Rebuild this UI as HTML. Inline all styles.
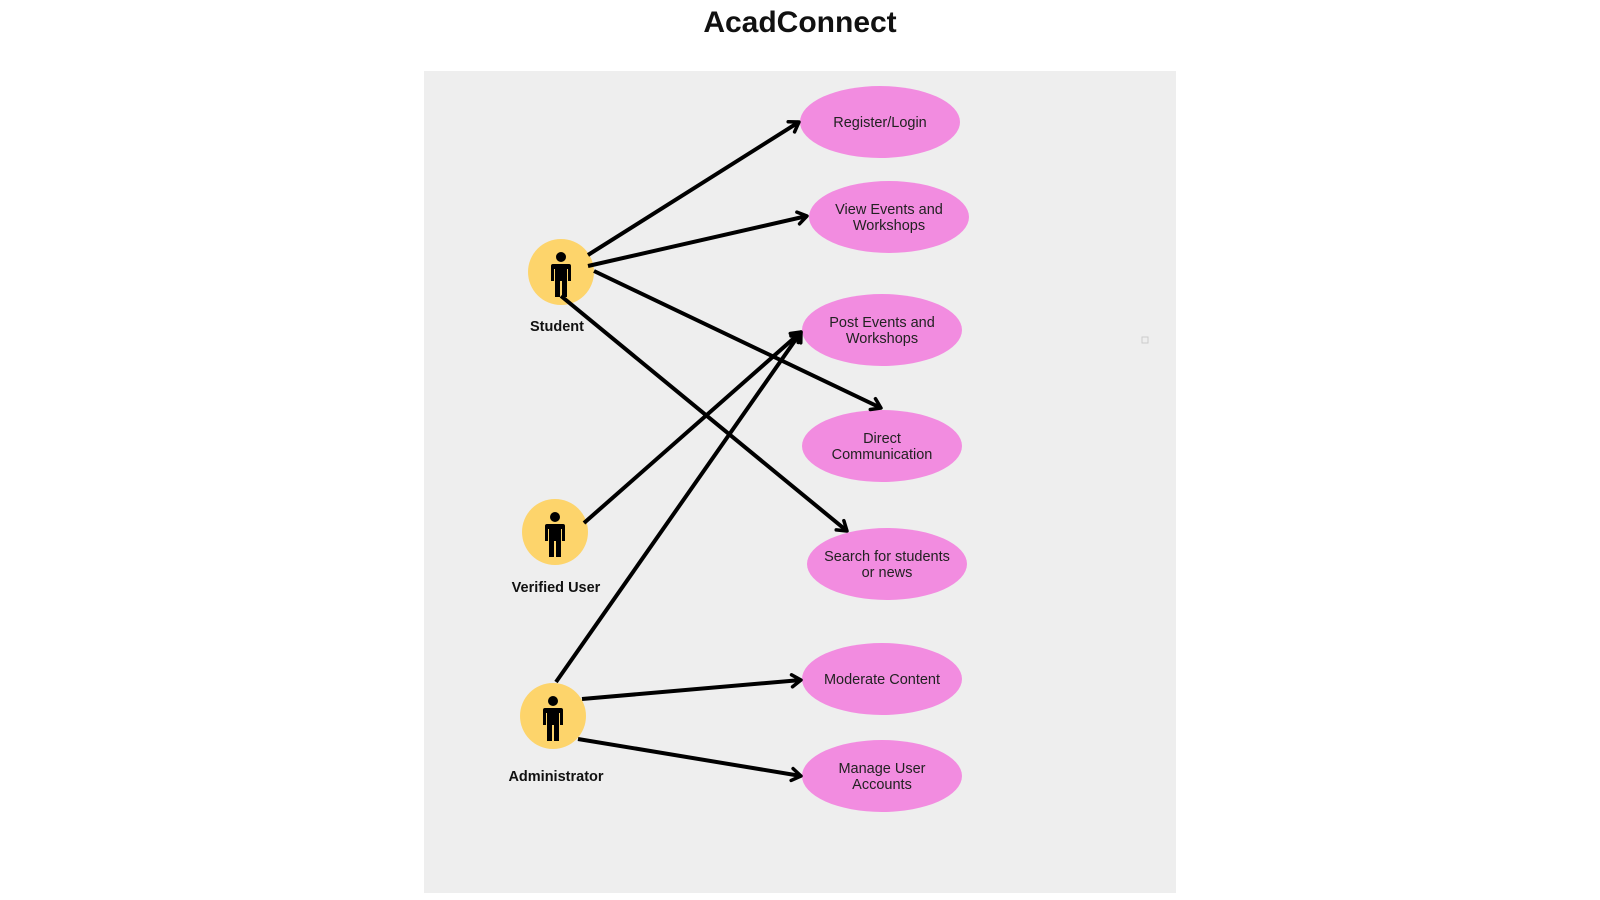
<!DOCTYPE html>
<html><head><meta charset="utf-8"><style>
html,body{margin:0;padding:0;background:#fff;}
svg{display:block;}
</style></head><body>
<svg width="1600" height="900" viewBox="0 0 1600 900" xmlns="http://www.w3.org/2000/svg">
<defs>
<marker id="ah" markerWidth="16" markerHeight="16" refX="11" refY="8" orient="auto" markerUnits="userSpaceOnUse">
<path d="M2,2 L11,8 L2,14" fill="none" stroke="#000" stroke-width="3.5" stroke-linecap="round" stroke-linejoin="round"/>
</marker>
<g id="man">
<circle cx="0" cy="-17" r="5" fill="#000"/>
<path d="M-8,-10 h16 a2,2 0 0 1 2,2 v15 h-3 v-12 h-1 v28 h-5 v-16 h-2 v16 h-5 v-28 h-1 v12 h-3 v-15 a2,2 0 0 1 2,-2z" fill="#000"/>
</g>
</defs>
<text x="800" y="32" text-anchor="middle" font-family="Liberation Sans, sans-serif" font-size="30" font-weight="bold" fill="#111">AcadConnect</text>
<rect x="424" y="71" width="752" height="822" fill="#eeeeee"/>
<rect x="1142" y="337" width="6" height="6" fill="none" stroke="#ccc" stroke-width="1"/>
<g fill="#f28ce0">
<ellipse cx="880" cy="122" rx="80" ry="36"/>
<ellipse cx="889" cy="217" rx="80" ry="36"/>
<ellipse cx="882" cy="330" rx="80" ry="36"/>
<ellipse cx="882" cy="446" rx="80" ry="36"/>
<ellipse cx="887" cy="564" rx="80" ry="36"/>
<ellipse cx="882" cy="679" rx="80" ry="36"/>
<ellipse cx="882" cy="776" rx="80" ry="36"/>
</g>
<g font-family="Liberation Sans, sans-serif" font-size="14.5" fill="#222" text-anchor="middle">
<text x="880" y="127">Register/Login</text>
<text x="889" y="214">View Events and</text><text x="889" y="230">Workshops</text>
<text x="882" y="327">Post Events and</text><text x="882" y="343">Workshops</text>
<text x="882" y="443">Direct</text><text x="882" y="459">Communication</text>
<text x="887" y="561">Search for students</text><text x="887" y="577">or news</text>
<text x="882" y="684">Moderate Content</text>
<text x="882" y="773">Manage User</text><text x="882" y="789">Accounts</text>
</g>
<g fill="#fdd46b">
<circle cx="561" cy="272" r="33"/>
<circle cx="555" cy="532" r="33"/>
<circle cx="553" cy="716" r="33"/>
</g>
<use href="#man" x="561" y="274"/>
<use href="#man" x="555" y="534"/>
<use href="#man" x="553" y="718"/>
<g font-family="Liberation Sans, sans-serif" font-size="14.5" font-weight="bold" fill="#111" text-anchor="middle">
<text x="557" y="331">Student</text>
<text x="556" y="592">Verified User</text>
<text x="556" y="781">Administrator</text>
</g>
<g stroke="#000" stroke-width="4" marker-end="url(#ah)" fill="none">
<line x1="588" y1="255" x2="799" y2="122"/>
<line x1="588" y1="266" x2="807" y2="216"/>
<line x1="594" y1="271" x2="881" y2="408"/>
<line x1="561" y1="296" x2="847" y2="531"/>
<line x1="584" y1="523" x2="801" y2="332"/>
<line x1="556" y1="682" x2="801" y2="332"/>
<line x1="582" y1="699" x2="801" y2="680"/>
<line x1="578" y1="739" x2="801" y2="776"/>
</g>
</svg>
</body></html>
